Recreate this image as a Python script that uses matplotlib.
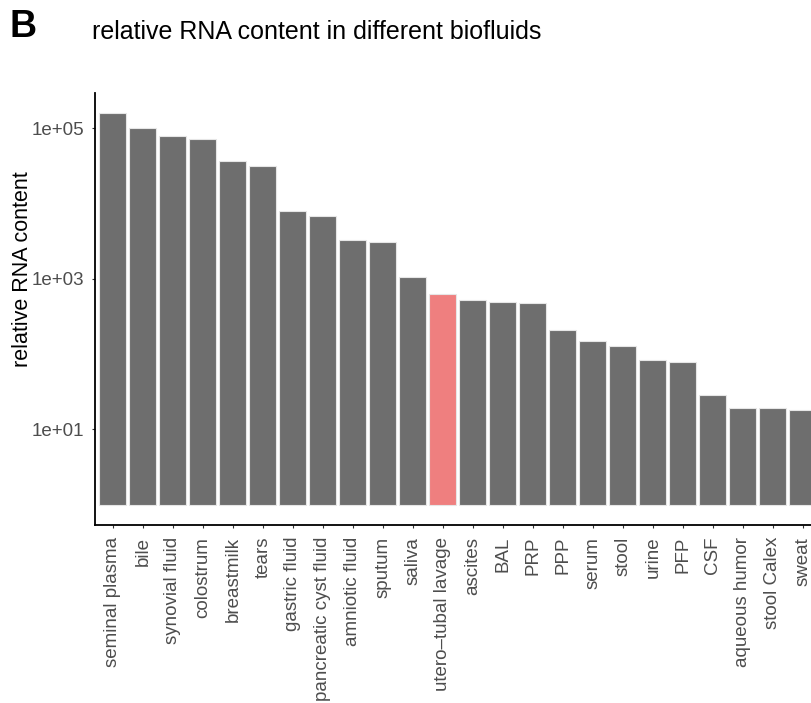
import matplotlib
matplotlib.use("Agg")
import matplotlib.pyplot as plt
import numpy as np

# Relative RNA content per biofluid (sorted high to low)
categories = [
    "seminal plasma", "bile", "synovial fluid", "colostrum", "breastmilk",
    "tears", "gastric fluid", "pancreatic cyst fluid", "amniotic fluid",
    "sputum", "saliva", "utero\u2013tubal lavage", "ascites", "BAL", "PRP",
    "PPP", "serum", "stool", "urine", "PFP", "CSF", "aqueous humor",
    "stool Calex", "sweat",
]
rna_content = [
    157000, 100000, 78000, 71000, 36800, 31300, 7800, 6800, 3300, 3030,
    1060, 634, 515, 493, 470, 207, 150, 127, 82, 78, 28.5, 19.4, 19.2, 18.2,
]
highlight = "utero\u2013tubal lavage"
y_ticks = [1e1, 1e3, 1e5]
y_tick_labels = ["1e+01", "1e+03", "1e+05"]

plt.rcParams["font.family"] = ["Liberation Sans", "DejaVu Sans"]

W, H = 811, 703
fig = plt.figure(figsize=(W / 100, H / 100), dpi=100)

# panel geometry in pixels
left_px, right_px, top_px, bottom_px = 95, 811, 93, 525
ax = fig.add_axes([left_px / W, 1 - bottom_px / H,
                   (right_px - left_px) / W, (bottom_px - top_px) / H])

x = np.arange(len(categories))
vals = np.array(rna_content, dtype=float)
colors = ["#EF7F7F" if c == highlight else "#6E6E6E" for c in categories]
ax.bar(x, vals - 1, bottom=1, width=0.9, color=colors,
       edgecolor="#E6E6E6", linewidth=0.8)

ax.set_yscale("log")
ax.set_ylim(10 ** -0.271, 10 ** 5.465)
ax.set_xlim(-0.6, 23.277)

ax.set_yticks(y_ticks)
ax.set_yticklabels(y_tick_labels)
ax.yaxis.set_minor_locator(matplotlib.ticker.NullLocator())
ax.set_xticks(x)
ax.set_xticklabels(categories, rotation=90, va="top", ha="center")

ax.tick_params(axis="both", which="major", length=2.5, width=0.8,
               color="#333333", labelcolor="#4D4D4D", labelsize=13.5)
ax.tick_params(axis="x", pad=6)
ax.tick_params(axis="y", pad=5)

for side in ("top", "right"):
    ax.spines[side].set_visible(False)
for side in ("left", "bottom"):
    ax.spines[side].set_color("black")
    ax.spines[side].set_linewidth(1.3)

# axis title and headings
fig.text(23 / W, 1 - 269 / H, "relative RNA content", rotation=90,
         ha="center", va="center", fontsize=15.5, color="black")
fig.text(10 / W, 1 - 27 / H, "B", ha="left", va="center",
         fontsize=27, fontweight="bold", color="black")
fig.text(92 / W, 1 - 32 / H, "relative RNA content in different biofluids",
         ha="left", va="center", fontsize=18, color="black")

fig.savefig("out.png", dpi=100)
